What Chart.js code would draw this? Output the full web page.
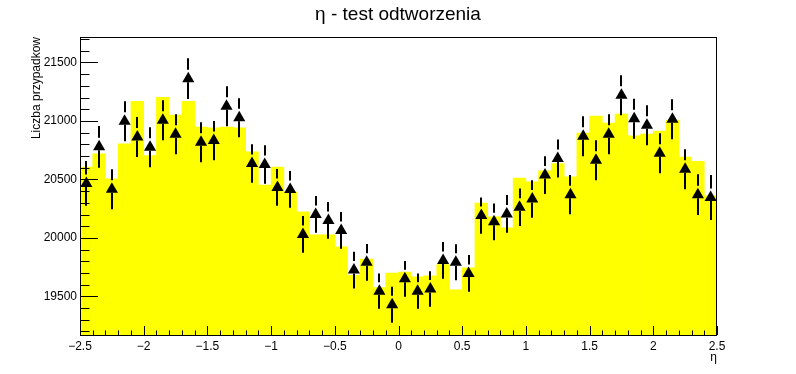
<!DOCTYPE html>
<html>
<head>
<meta charset="utf-8">
<title>eta - test odtworzenia</title>
<script src="https://cdn.jsdelivr.net/npm/chart.js@4/dist/chart.umd.min.js"></script>
<style>
  html, body { margin: 0; padding: 0; background: #fff; }
</style>
</head>
<body>
<canvas id="etaChart" width="796" height="374"></canvas>
<script>
// eta bins: 50 bins of width 0.1 between -2.5 and 2.5
const binCenters = [
  -2.45, -2.35, -2.25, -2.15, -2.05, -1.95, -1.85, -1.75, -1.65, -1.55,
  -1.45, -1.35, -1.25, -1.15, -1.05, -0.95, -0.85, -0.75, -0.65, -0.55,
  -0.45, -0.35, -0.25, -0.15, -0.05,  0.05,  0.15,  0.25,  0.35,  0.45,
   0.55,  0.65,  0.75,  0.85,  0.95,  1.05,  1.15,  1.25,  1.35,  1.45,
   1.55,  1.65,  1.75,  1.85,  1.95,  2.05,  2.15,  2.25,  2.35,  2.45
];

// yellow histogram (generated)
const histCounts = [
  20605, 20719, 20505, 20804, 21169, 20705, 21203, 21050, 21169, 20947,
  20941, 20947, 20941, 20736, 20451, 20605, 20394, 20223, 20026, 20026,
  19924, 19680, 19819, 19575, 19700, 19708, 19668, 19676, 19773, 19556,
  19744, 20297, 20180, 20086, 20511, 20480, 20573, 20636, 20522, 20896,
  21041, 20981, 21058, 20873, 20887, 20913, 21007, 20691, 20656, 20360
];

// black triangles (reconstructed) and their errors
const recoCounts = [
  20466, 20779, 20417, 20998, 20862, 20776, 21007, 20887, 21362, 20819,
  20832, 21126, 21028, 20637, 20628, 20432, 20415, 20030, 20201, 20150,
  20064, 19725, 19791, 19545, 19428, 19650, 19545, 19564, 19808, 19793,
  19696, 20191, 20138, 20205, 20263, 20333, 20537, 20679, 20370, 20870,
  20665, 20887, 21221, 21020, 20964, 20725, 21015, 20588, 20370, 20346
];
const recoErrors = [
  191, 178, 171, 171, 171, 171, 171, 171, 175, 171,
  167, 171, 167, 165, 165, 157, 157, 157, 157, 157,
  157, 157, 157, 151, 154, 152, 151, 152, 157, 154,
  157, 155, 157, 161, 160, 161, 162, 162, 167, 171,
  171, 171, 171, 171, 171, 171, 171, 171, 175, 192
];

const yTickValues = [19500, 20000, 20500, 21000, 21500];
const yMin = 19170, yMax = 21718;
const markerR = 7;

Chart.defaults.font.family = "'Liberation Sans', Arial, sans-serif";
Chart.defaults.color = "#000";

// ROOT-like frame, inward ticks and error bars
const rootFrame = {
  id: "rootFrame",
  afterDatasetsDraw(chart) {
    const { ctx, chartArea: a, scales: { x, y } } = chart;
    ctx.save();

    // error bars, leaving a gap for the marker
    ctx.strokeStyle = "#000";
    ctx.lineWidth = 2;
    ctx.beginPath();
    recoCounts.forEach((v, i) => {
      const px = Math.round(x.getPixelForValue(binCenters[i]));
      const yc = y.getPixelForValue(v);
      ctx.moveTo(px, y.getPixelForValue(v + recoErrors[i]));
      ctx.lineTo(px, yc - markerR - 2);
      ctx.moveTo(px, yc + markerR * 0.5);
      ctx.lineTo(px, y.getPixelForValue(v - recoErrors[i]));
    });
    ctx.stroke();

    ctx.lineWidth = 1;
    ctx.beginPath();
    // y ticks: major every 500, minor every 100
    for (let v = Math.ceil(yMin / 100) * 100; v <= yMax; v += 100) {
      const py = Math.round(y.getPixelForValue(v)) + 0.5;
      const len = v % 500 === 0 ? 18 : 9.5;
      ctx.moveTo(a.left, py);
      ctx.lineTo(a.left + len, py);
    }
    // x ticks: major every 0.5, minor on every bin edge
    for (let k = -25; k <= 25; k++) {
      const px = Math.round(x.getPixelForValue(k / 10)) + 0.5;
      const len = k % 5 === 0 ? 9 : 4.5;
      ctx.moveTo(px, a.bottom);
      ctx.lineTo(px, a.bottom - len);
    }
    ctx.stroke();

    // frame
    ctx.strokeRect(Math.round(a.left) + 0.5, Math.round(a.top) + 0.5,
                   Math.round(a.right - a.left) - 1, Math.round(a.bottom - a.top));
    ctx.restore();
  }
};

new Chart(document.getElementById("etaChart"), {
  type: "bar",
  data: {
    datasets: [
      {
        type: "line",
        label: "reco",
        data: binCenters.map((c, i) => ({ x: c, y: recoCounts[i] })),
        showLine: false,
        pointStyle: "triangle",
        pointRadius: markerR,
        pointBackgroundColor: "#000",
        pointBorderWidth: 0,
        order: 1
      },
      {
        type: "bar",
        label: "gen",
        data: binCenters.map((c, i) => ({ x: c, y: histCounts[i] })),
        backgroundColor: "#ffff00",
        borderWidth: 0,
        barPercentage: 1,
        categoryPercentage: 1,
        order: 2
      }
    ]
  },
  options: {
    responsive: false,
    animation: false,
    layout: { padding: 0 },
    plugins: {
      legend: { display: false },
      tooltip: { enabled: false },
      title: {
        display: true,
        text: "\u03b7 - test odtworzenia",
        font: { size: 19, weight: "normal" },
        color: "#000",
        padding: { top: 3, bottom: 11.2 }
      }
    },
    scales: {
      x: {
        type: "linear",
        min: -2.5,
        max: 2.5,
        offset: false,
        grid: { display: false, drawTicks: false },
        border: { display: false },
        ticks: {
          stepSize: 0.5,
          padding: 4,
          maxRotation: 0,
          font: { size: 12 },
          callback: v => (v < 0 ? "\u2212" : "") + Math.abs(v)
        },
        title: {
          display: true,
          text: "\u03b7",
          align: "end",
          font: { size: 12 },
          padding: { top: 0, bottom: 9.5 }
        },
        afterFit: s => { s.height = 39; }
      },
      y: {
        min: yMin,
        max: yMax,
        grid: { display: false, drawTicks: false },
        border: { display: false },
        ticks: { padding: 3, font: { size: 12 }, callback: v => String(v) },
        afterBuildTicks: s => { s.ticks = yTickValues.map(v => ({ value: v })); },
        title: {
          display: true,
          text: "Liczba przypadkow",
          align: "end",
          font: { size: 12 },
          padding: { top: 29, bottom: 0 }
        },
        afterFit: s => { s.width = 80; }
      },
      // empty right margin so the title stays centred on the canvas
      yRight: {
        position: "right",
        min: yMin,
        max: yMax,
        grid: { display: false, drawTicks: false },
        border: { display: false },
        ticks: { display: false },
        afterFit: s => { s.width = 79; }
      }
    }
  },
  plugins: [rootFrame]
});
</script>
</body>
</html>
